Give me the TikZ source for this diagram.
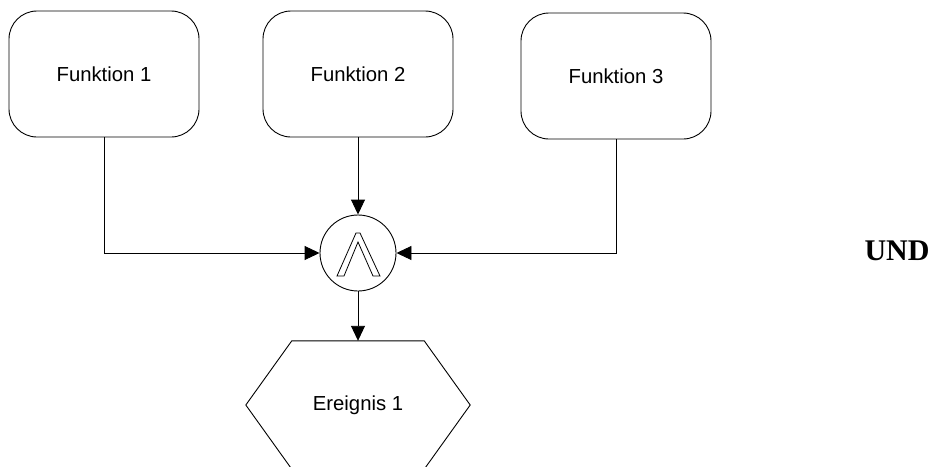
\documentclass[tikz,border=0pt]{standalone}
\usepackage{fontspec}
\setmainfont{Liberation Sans}
\newfontfamily\undfont{Liberation Serif}
\usepackage{tikz}
\usetikzlibrary{
    arrows.meta,
    positioning,
    calc
}
\tikzstyle{arrow} = [
    -{Triangle[length=15pt,width=14pt]},
    line width=0.9pt
]

\begin{document}
\begin{tikzpicture}[
    x=1pt, y=-1pt,
    funktion/.style={rectangle, draw, line width=0.9pt, rounded corners=28pt, minimum width=190pt, minimum height=126pt, inner sep=0pt, font=\fontsize{20.3}{24}\selectfont},
    ereignis/.style={rectangle, minimum width=224pt, minimum height=128pt, inner sep=0pt, font=\fontsize{20.3}{24}\selectfont},
    konnektor/.style={circle, draw, line width=0.9pt, minimum size=76pt, inner sep=0pt},
    label/.style={font=\undfont\bfseries\fontsize{30}{36}\selectfont}
]
    \clip (0,0) rectangle (936,466);

    % Funktionen
    \node[funktion] (f1) at (104,74) {Funktion 1};
    \node[funktion] (f2) at (358,74) {Funktion 2};
    \node[funktion] (f3) at (616,76) {Funktion 3};

    % Konnektor
    \node[konnektor] (und) at (358,253) {};
    \begin{scope}[shift={(und.center)}]
        \draw[line width=0.8pt, line join=miter] (-21,23) -- (-2,-20) -- (2,-20) -- (22,23) -- (15,23) -- (0,-11) -- (-14,23) -- cycle;
    \end{scope}

    % Ereignis
    \node[ereignis] (ev1) at (358,405) {Ereignis 1};
    \draw[line width=0.9pt] (ev1.west) -- ([xshift=46pt]ev1.north west) -- ([xshift=-46pt]ev1.north east)
        -- (ev1.east) -- ([xshift=-46pt]ev1.south east) -- ([xshift=46pt]ev1.south west) -- cycle;

    % Beschriftung
    \node[label] (undtext) at (897,251) {UND};

    % Arrows
    \draw[arrow] (f1.south) |- (und.west);
    \draw[arrow] (f2) -- (und);
    \draw[arrow] (f3.south) |- (und.east);
    \draw[arrow] (und) -- (ev1.north);

\end{tikzpicture}
\end{document}
